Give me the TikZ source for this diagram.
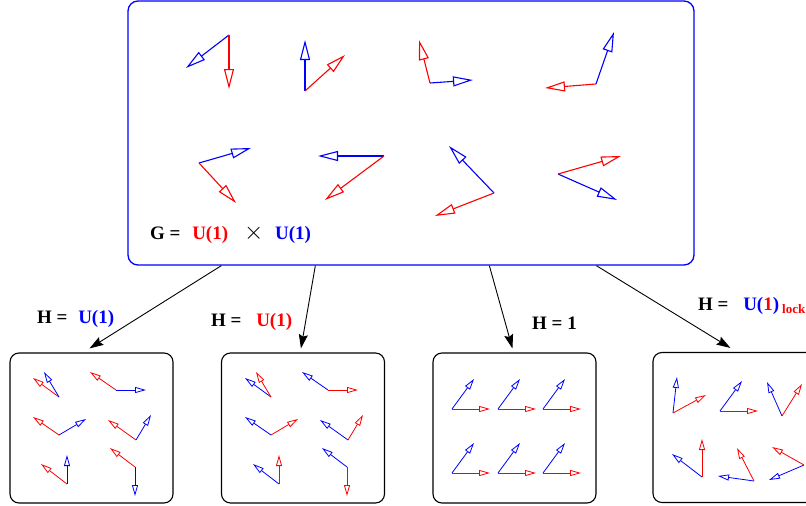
\documentclass[tikz,border=0pt]{standalone}
\usepackage{fontspec}
\setmainfont{Liberation Serif}
\usetikzlibrary{arrows.meta}

\begin{document}
\begin{tikzpicture}[x=1pt,y=-1pt,
    panel/.style={draw=blue,line width=1.3pt,rounded corners=10pt,minimum width=566pt,minimum height=264pt,inner sep=0pt},
    cell/.style={draw,line width=1.1pt,rounded corners=9pt,minimum width=163pt,minimum height=150pt,inner sep=0pt},
    link/.style={line width=0.9pt,-{Stealth[length=14pt,width=9pt,inset=2pt]}},
    bigvec/.style={line width=1.1pt,-{Triangle[open,length=20pt,width=10pt]}},
    smallvec/.style={line width=0.8pt,-{Triangle[open,length=11pt,width=6pt]}},
    lab/.style={font=\fontsize{19}{22}\selectfont\bfseries,inner sep=0pt,anchor=base west}]
    \useasboundingbox (0,0) rectangle (806,506);
    \clip (0,0) rectangle (806,506);

    \node[panel] (top) at (411,133) {};
    \node[cell] (b1) at (91.5,428) {};
    \node[cell] (b2) at (303,428) {};
    \node[cell] (b3) at (514.5,428) {};
    \node[cell] (b4) at (734.5,427.5) {};

    \draw[link] ([xshift=94pt]top.south west) -- ([xshift=80pt,yshift=4pt]b1.north west);
    \draw[link] ([xshift=188pt]top.south west) -- ([xshift=80pt,yshift=4pt]b2.north west);
    \draw[link] ([xshift=362pt]top.south west) -- ([xshift=80pt,yshift=4pt]b3.north west);
    \draw[link] ([xshift=469pt]top.south west) -- ([xshift=78pt,yshift=4pt]b4.north west);

    % G
    \foreach \px/\py/\bx/\by/\rx/\ry in {229/35/186/68/229/89, 305/91/305/40/345/55,
        430/83/473/80/419/40, 596/84/614/32/545/88, 199/163/251/148/236/203,
        384/156/318/156/325/200, 494/193/449/146/435/216, 558/174/617/200/621/156}
      {\draw[bigvec,blue] (\px,\py) -- (\bx,\by);
       \draw[bigvec,red] (\px,\py) -- (\rx,\ry);}

    \node[lab] (g) at (150,239) {G =\hspace{11.7pt}\textcolor{red}{U(1)}\hspace{16pt}{\mdseries\fontsize{30}{30}\selectfont$\times$}\hspace{11.7pt}\textcolor{blue}{U(1)}};

    % H = U(1), two ways
    \foreach \dx/\ca/\cb in {0/red/blue, 212/blue/red}
      \foreach \px/\py/\ax/\ay/\bx/\by in {59/397/33/378/44/372, 116/390/90/372/146/390,
          59/435/33/417/86/419, 136/440/108/420/151/415, 67/484/41/464/67/455,
          135/467/110/448/135/496}
        {\draw[smallvec,\ca] (\px+\dx,\py) -- (\ax+\dx,\ay);
         \draw[smallvec,\cb] (\px+\dx,\py) -- (\bx+\dx,\by);}

    % H = 1
    \foreach \x in {452,498,543}
      \foreach \y in {409,473}
        {\draw[smallvec,red] (\x,\y) -- ++(38,0);
         \draw[smallvec,blue] (\x,\y) -- ++(22,-30);}

    % locked
    \foreach \px/\py/\bx/\by/\rx/\ry in {673/413/677/377/706/395, 720/411/742/381/758/411,
        782/416/767/382/802/384, 702/477/672/454/702/439, 754/481/718/476/737/448,
        804/465/769/480/772/447}
      {\draw[smallvec,blue] (\px,\py) -- (\bx,\by);
       \draw[smallvec,red] (\px,\py) -- (\rx,\ry);}

    \node[lab] (h1) at (37,323) {H =\hspace{10.7pt}\textcolor{blue}{U(1)}};
    \node[lab] (h2) at (211,326) {H =\hspace{14.7pt}\textcolor{red}{U(1)}};
    \node[lab] (h3) at (532,329) {H = 1};
    \node[lab] (h4) at (698,310) {H =\hspace{14.7pt}\textcolor{blue}{U(}\textcolor{red}{1}\textcolor{blue}{)}\hspace{3pt}\raisebox{-3pt}{\fontsize{13}{14}\selectfont\textcolor{red}{lock}}};
  \end{tikzpicture}
\end{document}
